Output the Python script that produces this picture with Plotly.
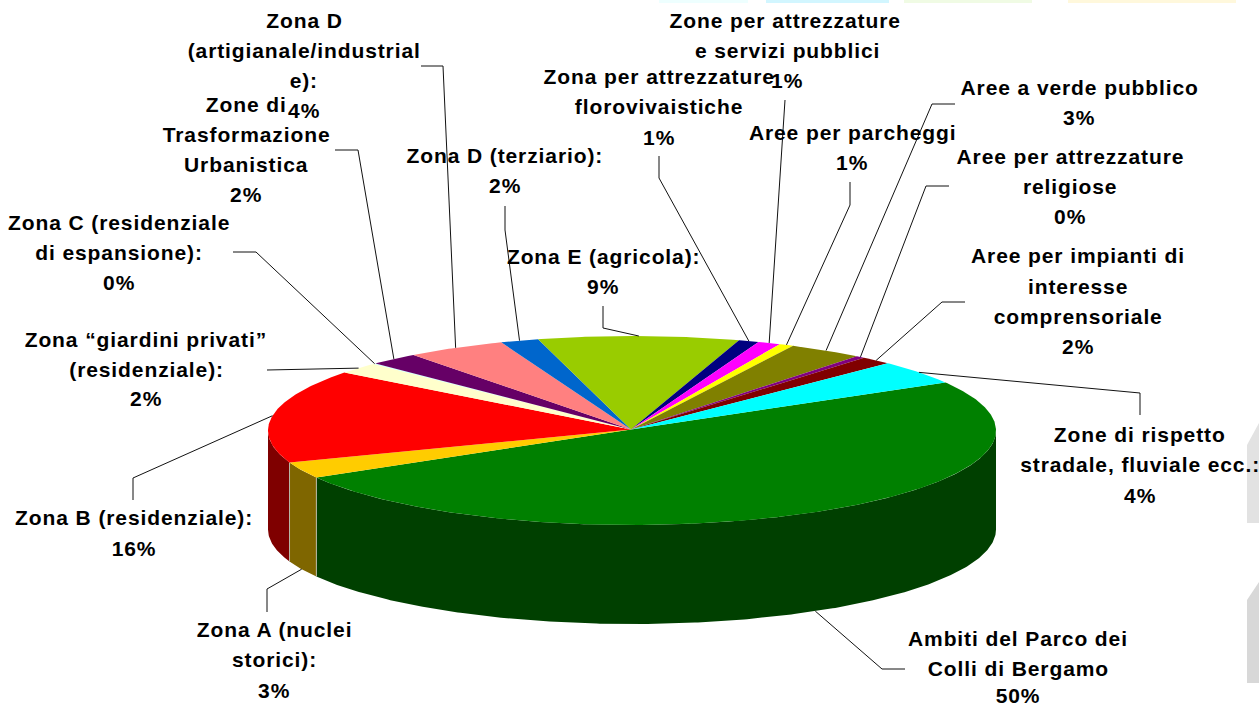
import math
import plotly.graph_objects as go

# ---------- data ----------
categories = ["Ambiti del Parco dei Colli di Bergamo", "Zona A (nuclei storici)", "Zona B (residenziale)",
              "Zona giardini privati (residenziale)", "Zona C (residenziale di espansione)",
              "Zone di Trasformazione Urbanistica", "Zona D (artigianale/industriale)", "Zona D (terziario)",
              "Zona E (agricola)", "Zona per attrezzature florovivaistiche", "Zone per attrezzature e servizi pubblici",
              "Aree per parcheggi", "Aree a verde pubblico", "Aree per attrezzature religiose",
              "Aree per impianti di interesse comprensoriale", "Zone di rispetto stradale, fluviale ecc."]
shares = [50.2, 2.8, 16.0, 1.95, 0.1, 2.2, 4.4, 1.7, 8.9, 0.9, 1.0, 0.65, 3.3, 0.4, 1.4, 4.1]
top_colors = ["#008000", "#FFCC00", "#FF0000", "#FFFFCC", "#CCFFFF", "#660066", "#FF8080", "#0066CC",
              "#99CC00", "#000080", "#FF00FF", "#FFFF00", "#808000", "#800080", "#800000", "#00FFFF"]
label_lines = [
    ["Ambiti del Parco dei", "Colli di Bergamo", "50%"],
    ["Zona A (nuclei", "storici):", "3%"],
    ["Zona B (residenziale):", "16%"],
    ["Zona “giardini privati”", "(residenziale):", "2%"],
    ["Zona C (residenziale", "di espansione):", "0%"],
    ["Zone di", "Trasformazione", "Urbanistica", "2%"],
    ["Zona D", "(artigianale/industrial", "e):", "4%"],
    ["Zona D (terziario):", "2%"],
    ["Zona E (agricola):", "9%"],
    ["Zona per attrezzature", "florovivaistiche", "1%"],
    ["Zone per attrezzature", "e servizi pubblici", "1%"],
    ["Aree per parcheggi", "1%"],
    ["Aree a verde pubblico", "3%"],
    ["Aree per attrezzature", "religiose", "0%"],
    ["Aree per impianti di", "interesse", "comprensoriale", "2%"],
    ["Zone di rispetto", "stradale, fluviale ecc.:", "4%"],
]

# ---------- layout constants ----------
W, H = 1259, 707
CX, CY, RX, RY, DEPTH = 632, 430.5, 364, 94.5, 99
START_DEG = 30.6
FONT = "Liberation Sans"
FS = 21
label_x = [[1018] * 3, [274] * 3, [134] * 2, [146] * 3, [119] * 3, [246] * 4, [304] * 4, [505] * 2, [603] * 2,
           [659] * 3, [785, 787, 787], [852] * 2, [1079] * 2, [1070] * 3, [1078] * 4, [1140] * 3]
label_y = [[638, 668, 695], [629, 659, 690], [517, 548], [339, 369, 398], [222, 252, 282], [104, 134, 164, 194],
           [20, 50, 80, 110], [155, 185], [256, 286], [76, 106, 137], [20, 50, 80], [132, 162], [87, 117],
           [156, 186, 216], [255, 286, 316, 346], [434, 464, 495]]
# leader path from the label inward; the final point is the slice rim, computed below
leader_bends = [[(905, 669), (882, 669)], [(267, 612), (267, 589)], [(133, 500), (133, 478)], [(267, 370)],
                [(233, 252), (256, 252)], [(335, 150), (358, 150)], [(421, 66), (443, 66)], [(505, 206), (505, 230)],
                [(603, 306), (603, 328)], [(659, 156), (659, 178)], [(785, 100)], [(850, 182), (850, 205)],
                [(955, 104), (932, 104)], [(949, 186), (926, 186)], [(965, 302), (942, 302)], [(1140, 415), (1140, 393)]]
on_wall = {0, 1}


def darker(hex_color):
    return "#%02X%02X%02X" % tuple(int(hex_color[i:i + 2], 16) // 2 for i in (1, 3, 5))


def rim(deg, dy=0.0):
    a = math.radians(deg)
    return CX + RX * math.cos(a), CY - RY * math.sin(a) + dy


def arc(a0, a1):
    n = max(2, int(abs(a1 - a0) * 2) + 1)
    return [a0 + (a1 - a0) * i / (n - 1) for i in range(n)]


total = sum(shares)
angles = [START_DEG]
for v in shares:
    angles.append(angles[-1] - v / total * 360)

fig = go.Figure()


def poly(pts, color):
    fig.add_trace(go.Scatter(x=[p[0] for p in pts], y=[p[1] for p in pts], mode="lines", fill="toself",
                             fillcolor=color, line=dict(width=0), hoverinfo="skip", showlegend=False))


# side walls (only the front half of the rim is visible)
for i, color in enumerate(top_colors):
    a0, a1 = angles[i], angles[i + 1]
    for win_hi, win_lo in ((0, -180), (-360, -540)):
        s, e = min(a0, win_hi), max(a1, win_lo)
        if s > e:
            ang = arc(s, e)
            up = [rim(t) for t in ang]
            down = [rim(t, DEPTH) for t in reversed(ang)]
            poly(up + down + [up[0]], darker(color))

# pale seams between wall segments
for a in angles:
    if -180 < a < 0:
        p, q = rim(a), rim(a, DEPTH)
        fig.add_trace(go.Scatter(x=[p[0], q[0]], y=[p[1], q[1]], mode="lines", hoverinfo="skip", showlegend=False,
                                 line=dict(color="#B8B8A8", width=1)))

# top faces
apex = (CX - 1, CY - 1)
for i, color in enumerate(top_colors):
    pts = [apex] + [rim(t) for t in arc(angles[i], angles[i + 1])] + [apex]
    poly(pts, color)

# leaders
for i, bends in enumerate(leader_bends):
    mid = (angles[i] + angles[i + 1]) / 2
    end = rim(mid, DEPTH if i in on_wall else 0)
    pts = bends + [end]
    fig.add_trace(go.Scatter(x=[p[0] for p in pts], y=[p[1] for p in pts], mode="lines",
                             line=dict(color="#111111", width=1), hoverinfo="skip", showlegend=False))

# labels, drawn line by line
annotations = []
for lines, xs, ys in zip(label_lines, label_x, label_y):
    for t, x, y in zip(lines, xs, ys):
        annotations.append(dict(x=x, y=y, xref="x", yref="y", text=t, showarrow=False, xanchor="center",
                                yanchor="middle", font=dict(family=FONT, size=FS, color="#000000", weight=700)))

# faint background fragments at the page edges
shapes = []
for x0, x1, c in ((659, 748, "#EEFFFF"), (766, 889, "#D2F6FF"), (904, 1032, "#F0FBE4"), (1068, 1236, "#FFF8DC")):
    shapes.append(dict(type="rect", xref="x", yref="y", x0=x0, x1=x1, y0=0, y1=3, fillcolor=c, line_width=0, layer="below"))
for p, c in (("M1247,445 L1259,423 L1259,523 L1247,523 Z", "#E2E2E2"), ("M1247,600 L1259,582 L1259,683 L1247,683 Z", "#D8D8D8")):
    shapes.append(dict(type="path", xref="x", yref="y", path=p, fillcolor=c, line_width=0, layer="below"))

fig.update_layout(
    width=W, height=H, margin=dict(l=0, r=0, t=0, b=0), paper_bgcolor="#FFFFFF", plot_bgcolor="#FFFFFF",
    showlegend=False, annotations=annotations, shapes=shapes,
    xaxis=dict(range=[0, W], visible=False, fixedrange=True),
    yaxis=dict(range=[H, 0], visible=False, fixedrange=True),
)
post = """
document.documentElement.style.margin='0';document.documentElement.style.overflow='hidden';
document.body.style.margin='0';document.body.style.overflow='hidden';
document.querySelectorAll('.annotation-text').forEach(function(t){t.style.letterSpacing='0.9px';});
"""
fig.write_html("out.html", config=dict(displayModeBar=False), post_script=post)
